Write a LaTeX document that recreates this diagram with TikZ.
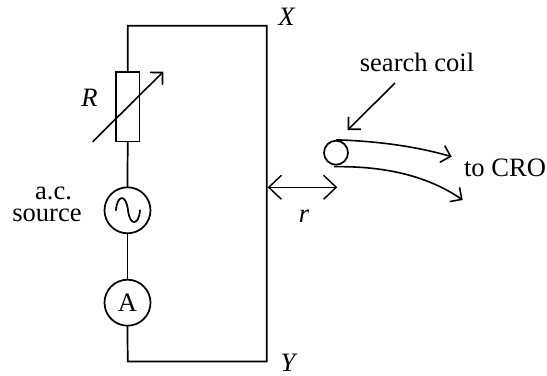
\documentclass[tikz,border=0pt]{standalone}
\usepackage{fontspec}
\setmainfont{Liberation Serif}
\usetikzlibrary{arrows.meta}
\tikzset{
 wire/.style={line width=1.3pt,line cap=round,line join=miter},
 arr/.style={line width=1.2pt,-{Straight Barb[length=6.5bp,width=13bp]}},
 darr/.style={line width=1.1pt,{Straight Barb[length=9.5bp,width=18bp]}-{Straight Barb[length=9.5bp,width=18bp]}},
 lab/.style={font=\fontsize{20}{16.8}\selectfont,inner sep=0pt,align=center},
 ilab/.style={font=\fontsize{20}{20}\selectfont\itshape,inner sep=0pt},
 meter/.style={draw,circle,line width=1.3pt,minimum size=34.5bp,inner sep=0pt,fill=white},
}
\begin{document}
\begin{tikzpicture}[x=0.75bp,y=-0.75bp]
\useasboundingbox (0,0) rectangle (547,376);
\coordinate (tl) at (127.7,25.7);
\coordinate (tr) at (266.7,25.7);
\coordinate (br) at (266.7,361.5);
\coordinate (bl) at (127.7,361.5);
\node[draw,line width=1.3pt,minimum width=17.5bp,minimum height=52bp,inner sep=0pt] (res) at (127.7,106.7) {};
\node[meter] (src) at (127.5,210.3) {};
\node[meter,font=\fontsize{20}{20}\selectfont] (amm) at (127.5,302.7) {A};
\draw[wire] (res.north) -- (tl) -- (tr) -- (br) -- (bl) -- (amm.south);
\draw[wire] (res.south) -- (src.north);
\draw[wire] (src.south) -- (amm.north);
\coordinate (ra) at (92.7,141.7);
\coordinate (rb) at (163.3,71.7);
\draw[arr] (ra) -- (rb);
\draw[wire] (116,210.3) .. controls (117,195) and (126,193) .. (128,210.3) .. controls (130,227) and (139,225) .. (140,210.3);
\node[ilab,anchor=base] (R) at (89.5,106.7) {R};
\node[lab,anchor=base] (acA) at (53.5,199.3) {a.c.};
\node[lab,anchor=base] (acB) at (47,221.7) {source};
\node[ilab,anchor=base] (X) at (286.5,25.7) {X};
\node[ilab,anchor=base] (Y) at (288,371.7) {Y};
\node[ilab,anchor=base] (r) at (304,222.7) {r};
\coordinate (d1) at (267.7,187.3);
\coordinate (d2) at (337.3,187.3);
\draw[darr] (d1) -- (d2);
\node[lab,anchor=base] (sc) at (417,71.7) {search coil};
\coordinate (s1) at (395,83);
\coordinate (s2) at (347.7,130);
\draw[arr] (s1) -- (s2);
\node[lab,anchor=base] (cro) at (505,176) {to CRO};
\node[draw,circle,line width=1.3pt,minimum size=18bp,inner sep=0pt] (coil) at (336,152.7) {};
\coordinate (c1) at (451.7,156.7);
\coordinate (c2) at (462.7,200);
\draw[arr] (coil.north) .. controls (375,141) and (415,146) .. (c1);
\draw[arr] (334,166.7) .. controls (380,166) and (425,174) .. (c2);
\end{tikzpicture}
\end{document}
